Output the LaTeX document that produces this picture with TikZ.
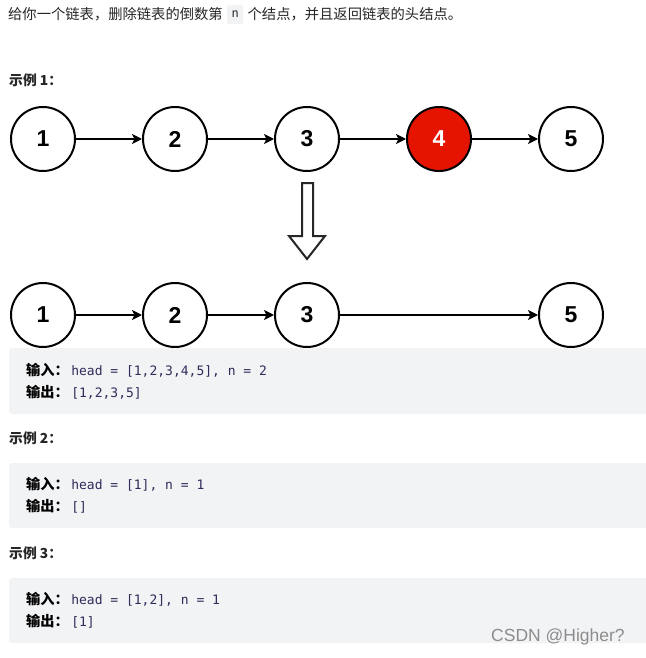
\documentclass[tikz,border=0pt]{standalone}
\usepackage{fontspec}
\usetikzlibrary{arrows.meta}
\setmainfont{Noto Sans CJK SC}
\newfontfamily\numfont{Liberation Sans}
\newfontfamily\codefont{DejaVu Sans Mono}
\newfontfamily\wmfont{Liberation Sans}
\definecolor{boxgrey}{HTML}{F2F3F5}
\definecolor{codecol}{HTML}{2F2B5A}
\definecolor{txt}{HTML}{262626}
\definecolor{delred}{HTML}{E51400}
\tikzset{
  lnode/.style={circle, draw=black, line width=2pt, minimum size=64pt, inner sep=0pt, fill=white,
    font=\numfont\bfseries\fontsize{23}{23}\selectfont},
  link/.style={line width=1.6pt, -{Stealth[length=10pt,width=10pt,inset=2.5pt]}},
  codebox/.style={fill=boxgrey, rounded corners=3pt, draw=none},
  heading/.style={anchor=west, inner sep=0pt, text=txt, font=\bfseries\fontsize{13.8}{14}\selectfont},
  ioline/.style={anchor=west, inner sep=0pt},
}
\newcommand{\lbl}[1]{{\bfseries\fontsize{14.2}{14}\selectfont #1}\hspace{2.5pt}}
\newcommand{\cde}[1]{{\codefont\fontsize{13}{14}\selectfont\color{codecol}#1}}
\begin{document}
\begin{tikzpicture}[x=1pt,y=-1pt]
\useasboundingbox[fill=white] (0,0) rectangle (645,658);
% top line
\node[anchor=west, inner sep=0pt, fill=boxgrey, rounded corners=2pt, minimum width=16pt, minimum height=19pt] (nbox) at (227,14.5) {};
\node[anchor=west, inner sep=0pt, text=txt, font=\fontsize{14.3}{14}\selectfont] (intro) at (8,14)
  {给你一个链表，删除链表的倒数第\hspace{25pt}个结点，并且返回链表的头结点。};
\node[inner sep=0pt, text=txt] (nchar) at (nbox.center) {\codefont\fontsize{12}{12}\selectfont n};
% example 1 heading
\node[heading] (h1) at (9,80) {示例 1：};
% row 1
\node[lnode] (a1) at (43,139) {1};
\node[lnode] (a2) at (175,139) {2};
\node[lnode] (a3) at (307,139) {3};
\node[lnode, fill=delred, text=white] (a4) at (439,139) {4};
\node[lnode] (a5) at (571,139) {5};
\draw[link] (a1) -- (a2);
\draw[link] (a2) -- (a3);
\draw[link] (a3) -- (a4);
\draw[link] (a4) -- (a5);
% hollow down arrow
\draw[line width=2pt, draw=black!85, fill=white, line join=miter]
  (302,183) -- (313,183) -- (313,236) -- (325,236) -- (307,259) -- (289,236) -- (302,236) -- cycle;
% row 2
\node[lnode] (b1) at (43,315) {1};
\node[lnode] (b2) at (175,315) {2};
\node[lnode] (b3) at (307,315) {3};
\node[lnode] (b5) at (571,315) {5};
\draw[link] (b1) -- (b2);
\draw[link] (b2) -- (b3);
\draw[link] (b3) -- (b5);
% box 1
\fill[codebox] (9,348) rectangle (652,414);
\node[ioline] (i1) at (26,370) {\lbl{输入：}\cde{head = [1,2,3,4,5], n = 2}};
\node[ioline] (o1) at (26,392.5) {\lbl{输出：}\cde{[1,2,3,5]}};
% example 2
\node[heading] (h2) at (9,438) {示例 2：};
\fill[codebox] (9,463) rectangle (652,528);
\node[ioline] (i2) at (26,484.5) {\lbl{输入：}\cde{head = [1], n = 1}};
\node[ioline] (o2) at (26,506.5) {\lbl{输出：}\cde{[]}};
% example 3
\node[heading] (h3) at (9,553) {示例 3：};
\fill[codebox] (9,578) rectangle (652,643);
\node[ioline] (i3) at (26,599.5) {\lbl{输入：}\cde{head = [1,2], n = 1}};
\node[ioline] (o3) at (26,621.5) {\lbl{输出：}\cde{[1]}};
% watermark
\node[anchor=west, inner sep=0pt, text=black!45, font=\wmfont\fontsize{17.5}{17.5}\selectfont] (wm) at (491,637) {CSDN @Higher?};
\end{tikzpicture}
\end{document}
